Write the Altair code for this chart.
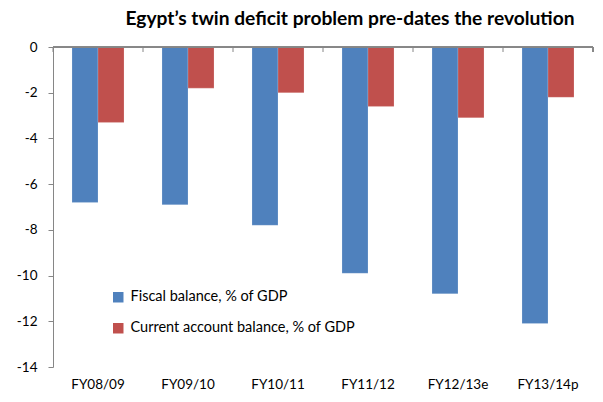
import altair as alt
import pandas as pd

categories = ["FY08/09", "FY09/10", "FY10/11", "FY11/12", "FY12/13e", "FY13/14p"]
fiscal = [-6.8, -6.9, -7.8, -9.9, -10.8, -12.1]
current = [-3.3, -1.8, -2.0, -2.6, -3.1, -2.2]
series_names = ["Fiscal balance, % of GDP", "Current account balance, % of GDP"]
colors = ["#4F81BD", "#C0504D"]
y_ticks = [0, -2, -4, -6, -8, -10, -12, -14]

rows = []
for c, f, a in zip(categories, fiscal, current):
    rows.append({"cat": c, "series": series_names[0], "value": f})
    rows.append({"cat": c, "series": series_names[1], "value": a})
df = pd.DataFrame(rows)
cat_df = pd.DataFrame({"cat": categories})

FONT = "Lato"
W, H = 540, 320

xscale = alt.Scale(domain=categories, paddingInner=0, paddingOuter=0)

bars = alt.Chart(df).mark_bar(strokeWidth=0.6, stroke="#ffffff", strokeOpacity=0.3).encode(
    x=alt.X("cat:N", scale=xscale, sort=categories,
            axis=alt.Axis(title=None, domain=False, ticks=False, labelAngle=0,
                          labelFontSize=13.5, labelFont=FONT, labelColor="#000000",
                          labelPadding=10)),
    xOffset=alt.XOffset("series:N", scale=alt.Scale(domain=series_names, paddingInner=0, paddingOuter=0.73)),
    y=alt.Y("value:Q", scale=alt.Scale(domain=[-14, 0], nice=False, zero=False),
            axis=alt.Axis(title=None, values=y_ticks, grid=False, domainColor="#868686",
                          tickColor="#868686", tickSize=5, labelFontSize=13.5, labelFont=FONT,
                          labelColor="#000000", labelPadding=11,
                          labelExpr="datum.value < 0 ? '-' + (-datum.value) : '' + datum.value")),
    color=alt.Color("series:N", scale=alt.Scale(domain=series_names, range=colors),
                    legend=alt.Legend(title=None, orient="none", legendX=58, legendY=243,
                                      symbolType="square", symbolSize=110, symbolStrokeWidth=0,
                                      labelFontSize=14.5, labelFont=FONT, labelColor="#000000",
                                      rowPadding=16, labelOffset=5, labelLimit=400)),
)

zero_line = alt.Chart(cat_df).mark_rule(color="#868686", strokeWidth=1).encode(
    x=alt.value(0), x2=alt.value(W), y=alt.value(0)
)

ticks = alt.Chart(cat_df).mark_rule(color="#868686", strokeWidth=1).encode(
    x=alt.X("cat:N", scale=xscale, sort=categories, bandPosition=0),
    y=alt.value(0), y2=alt.value(5)
)

end_tick = alt.Chart(cat_df).mark_rule(color="#868686", strokeWidth=1).encode(
    x=alt.value(W), y=alt.value(0), y2=alt.value(5)
)

chart = alt.layer(bars, zero_line, ticks, end_tick).properties(
    width=W, height=H,
    title=alt.Title("Egypt\u2019s twin deficit problem pre-dates the revolution",
                    font=FONT, fontSize=19.2, fontWeight="bold", color="#000000",
                    anchor="middle", dx=27, offset=11),
    autosize=alt.AutoSizeParams(type="none"),
    padding={"left": 45, "top": 39, "right": 2, "bottom": 27},
).configure_view(stroke=None)

chart.save("out.html", embed_options={"renderer": "svg", "actions": False})
